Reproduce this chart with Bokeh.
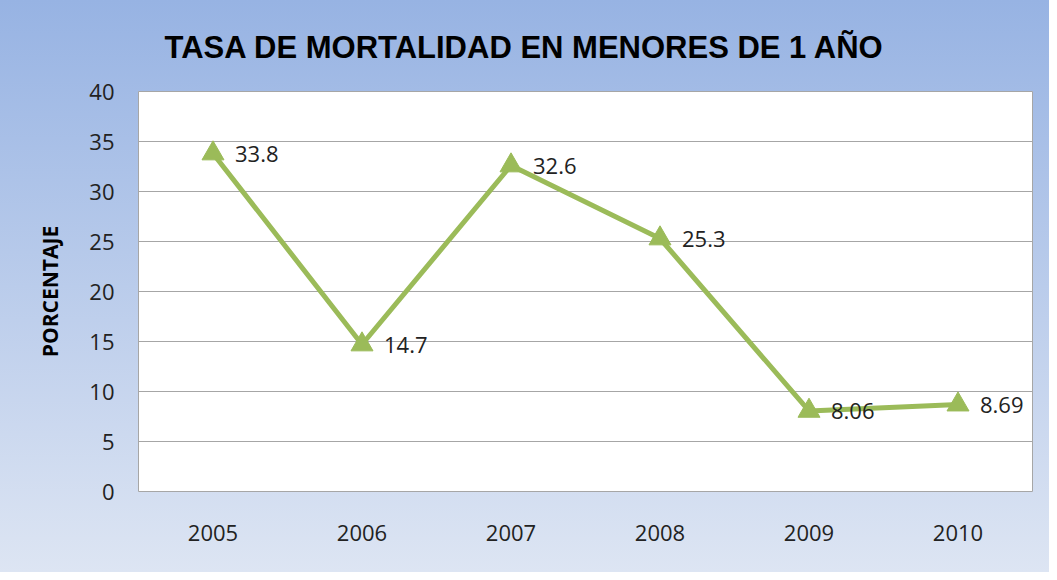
from bokeh.plotting import figure
from bokeh.models import ColumnDataSource, LabelSet, InlineStyleSheet, FixedTicker, Title
from bokeh.core.properties import value
from bokeh.embed import file_html
from bokeh.resources import INLINE

years = ["2005", "2006", "2007", "2008", "2009", "2010"]
rates = [33.8, 14.7, 32.6, 25.3, 8.06, 8.69]
rate_labels = ["33.8", "14.7", "32.6", "25.3", "8.06", "8.69"]
y_ticks = [0, 5, 10, 15, 20, 25, 30, 35, 40]

title_text = "TASA DE MORTALIDAD EN MENORES DE 1 AÑO"
y_title = "PORCENTAJE"

src = ColumnDataSource(dict(x=years, y=rates, lab=rate_labels))

p = figure(x_range=years, y_range=(0, 40), width=1049, height=572,
           output_backend="svg", toolbar_location=None,
           min_border_left=138, min_border_right=17, min_border_top=91, min_border_bottom=81)

p.title = Title(text=title_text, align="left", offset=26,
                text_font="Liberation Sans", text_font_size="31px",
                text_font_style="bold", text_color="#000000", standoff=53)

p.border_fill_color = None
p.stylesheets = [InlineStyleSheet(css=":host { background: linear-gradient(to bottom, #97b3e3 0%, #dde5f3 100%); }")]
p.background_fill_color = "#ffffff"
p.outline_line_color = "#a6a6a6"
p.outline_line_width = 1

p.xgrid.grid_line_color = None
p.ygrid.grid_line_color = "#a6a6a6"
p.ygrid.grid_line_width = 1

p.yaxis.ticker = FixedTicker(ticks=y_ticks)
for ax in (p.xaxis, p.yaxis):
    ax.axis_line_color = None
    ax.major_tick_line_color = None
    ax.minor_tick_line_color = None
    ax.major_label_text_font = "Open Sans"
    ax.major_label_text_font_size = "22px"
    ax.major_label_text_color = "#222222"

p.yaxis.major_label_standoff = 18
p.xaxis.major_label_standoff = 27
p.yaxis.axis_label = y_title
p.yaxis.axis_label_text_font = "Open Sans"
p.yaxis.axis_label_text_font_style = "bold"
p.yaxis.axis_label_text_font_size = "21px"
p.yaxis.axis_label_text_color = "#000000"
p.yaxis.axis_label_standoff = 22

p.line("x", "y", source=src, line_color="#9bbb59", line_width=5)
p.scatter("x", "y", source=src, marker="triangle", size=22,
          fill_color="#9bbb59", line_color="#9bbb59")

labels = LabelSet(x="x", y="y", text="lab", source=src, x_offset=22,
                  text_align="left", text_baseline="middle",
                  text_font=value("Open Sans"), text_font_size=value("22px"),
                  text_color="#222222")
p.add_layout(labels)

open("out.html", "w").write(file_html(p, INLINE))
